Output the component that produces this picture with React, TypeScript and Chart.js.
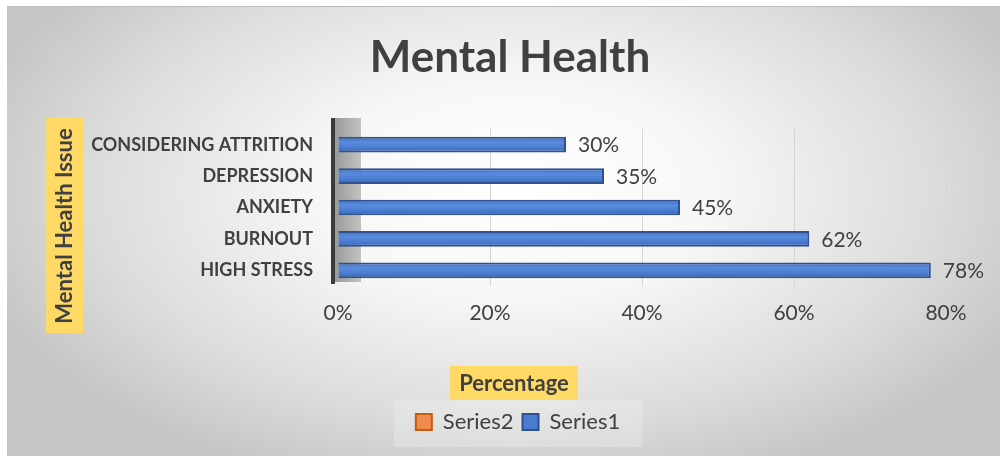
import React, { useEffect, useRef } from 'react';
import { Chart, registerables } from 'chart.js';

Chart.register(...registerables);

const chartTitle = 'Mental Health';
const yAxisTitle = 'Mental Health Issue';
const xAxisTitle = 'Percentage';
const categories = ['CONSIDERING ATTRITION', 'DEPRESSION', 'ANXIETY', 'BURNOUT', 'HIGH STRESS'];
const series1Values = [30, 35, 45, 62, 78];
const series2Values: (number | null)[] = [null, null, null, null, null];
const xTickValues = [0, 20, 40, 60, 80];

const FONT = 'Lato, "Open Sans", sans-serif';
const TEXT = '#404040';
const YELLOW = '#FFD966';

const backgroundPlugin = {
  id: 'bgPlugin',
  beforeDraw(chart: any) {
    const ctx = chart.ctx;
    const W = chart.width;
    const H = chart.height;
    ctx.save();
    ctx.fillStyle = '#ffffff';
    ctx.fillRect(0, 0, W, H);
    ctx.save();
    ctx.beginPath();
    ctx.rect(7, 6, W - 7, H - 6);
    ctx.clip();
    const cx = 515, cy = 190, sy = 0.55;
    ctx.translate(cx, cy);
    ctx.scale(1, sy);
    const g = ctx.createRadialGradient(0, 0, 0, 0, 0, 560);
    g.addColorStop(0, '#ffffff');
    g.addColorStop(0.35, '#f7f7f7');
    g.addColorStop(0.75, '#dcdcdc');
    g.addColorStop(1, '#c6c6c6');
    ctx.fillStyle = g;
    ctx.fillRect(-cx, -cy / sy, W, H / sy + 10);
    ctx.restore();
    ctx.strokeStyle = '#bdbdbd';
    ctx.lineWidth = 1;
    ctx.beginPath();
    ctx.moveTo(7, 6.5);
    ctx.lineTo(W, 6.5);
    ctx.stroke();

    ctx.fillStyle = TEXT;
    ctx.font = `bold 44px ${FONT}`;
    ctx.textAlign = 'center';
    ctx.textBaseline = 'middle';
    ctx.fillText(chartTitle, 510, 58);

    const legend = chart.legend;
    if (legend && legend.legendHitBoxes && legend.legendHitBoxes.length) {
      const hb = legend.legendHitBoxes;
      const minX = Math.min(...hb.map((b: any) => b.left));
      const maxX = Math.max(...hb.map((b: any) => b.left + b.width));
      ctx.fillStyle = 'rgba(255,255,255,0.22)';
      ctx.fillRect(minX - 22, 400, maxX - minX + 44, 47);
    }

    ctx.fillStyle = YELLOW;
    ctx.fillRect(46, 118, 37, 215);
    ctx.fillRect(450, 366, 128, 34);
    ctx.fillStyle = TEXT;
    ctx.font = `bold 22px ${FONT}`;
    ctx.fillText(xAxisTitle, 514, 384);
    ctx.save();
    ctx.translate(65, 226);
    ctx.rotate(-Math.PI / 2);
    ctx.fillText(yAxisTitle, 0, 0);
    ctx.restore();
    ctx.restore();
  },
};

const wallPlugin = {
  id: 'wallPlugin',
  beforeDatasetsDraw(chart: any) {
    const { ctx, chartArea } = chart;
    const top = chartArea.top - 11;
    const bottom = chartArea.bottom - 4;
    const left = chartArea.left;
    ctx.save();
    const g = ctx.createLinearGradient(left - 3, 0, left + 24, 0);
    g.addColorStop(0, '#9a9a9a');
    g.addColorStop(1, '#c4c4c4');
    ctx.fillStyle = g;
    ctx.fillRect(left - 3, top, 26, bottom - top);
    ctx.fillStyle = '#3a3a3a';
    ctx.fillRect(left - 7, top, 4, bottom - top + 2);
    ctx.restore();
  },
};

const dataLabelPlugin = {
  id: 'dataLabels',
  afterDatasetsDraw(chart: any) {
    const { ctx } = chart;
    const meta = chart.getDatasetMeta(1);
    ctx.save();
    ctx.fillStyle = TEXT;
    ctx.font = `21px ${FONT}`;
    ctx.textAlign = 'left';
    ctx.textBaseline = 'middle';
    meta.data.forEach((bar: any, i: number) => {
      ctx.fillText(`${series1Values[i]}%`, bar.x + 12, bar.y + 1);
    });
    ctx.restore();
  },
};

const barFill = (c: any) => {
  const chart = c.chart;
  const ys = chart.scales && chart.scales.y;
  if (c.type !== 'data' || !ys || !chart.chartArea) return '#4A7BD0';
  const yc = ys.getPixelForValue(c.dataIndex);
  const g = chart.ctx.createLinearGradient(0, yc - 8, 0, yc + 8);
  g.addColorStop(0, '#3F6CC0');
  g.addColorStop(0.35, '#5A8BDE');
  g.addColorStop(0.7, '#4A7BD0');
  g.addColorStop(1, '#3560B0');
  return g;
};

export default function App() {
  const ref = useRef<HTMLCanvasElement | null>(null);
  useEffect(() => {
    if (!ref.current) return;
    const chart = new Chart(ref.current, {
      type: 'bar',
      data: {
        labels: categories,
        datasets: [
          {
            label: 'Series2',
            data: series2Values,
            backgroundColor: '#F08A4B',
            borderColor: '#C55A11',
            borderWidth: 2,
            grouped: false,
          } as any,
          {
            label: 'Series1',
            data: series1Values,
            backgroundColor: barFill,
            borderColor: '#2F528F',
            borderWidth: 2,
            grouped: false,
            categoryPercentage: 1,
            barPercentage: 0.5,
          } as any,
        ],
      },
      options: {
        indexAxis: 'y',
        responsive: false,
        animation: false,
        devicePixelRatio: 1,
        layout: { padding: { top: 129, left: 90, right: 54, bottom: 13 } },
        datasets: { bar: { categoryPercentage: 1, barPercentage: 0.5 } },
        scales: {
          x: {
            min: 0,
            max: 80,
            afterBuildTicks(scale: any) {
              scale.ticks = xTickValues.map((v) => ({ value: v }));
            },
            afterFit(scale: any) {
              scale.height = 116;
            },
            ticks: {
              callback: (v: any) => `${v}%`,
              font: { family: FONT, size: 21 },
              color: TEXT,
              padding: 15,
            },
            grid: {
              drawTicks: false,
              color: (c: any) => (c.index === 0 ? 'rgba(0,0,0,0)' : '#d4d4d4'),
            },
            border: { display: false },
          },
          y: {
            afterFit(scale: any) {
              scale.width = 248;
            },
            ticks: {
              font: { family: FONT, size: 18, weight: 'bold' },
              color: TEXT,
              padding: 25,
            },
            grid: { display: false, drawTicks: false },
            border: { display: false },
          },
        },
        plugins: {
          title: { display: false },
          tooltip: { enabled: false },
          legend: {
            position: 'bottom',
            labels: {
              font: { family: FONT, size: 22 },
              color: TEXT,
              boxWidth: 16,
              boxHeight: 16,
              padding: 9,
              generateLabels: (ch: any) =>
                Chart.defaults.plugins.legend.labels.generateLabels(ch).map((l: any) => ({
                  ...l,
                  fillStyle: l.datasetIndex === 1 ? '#4A7BD0' : l.fillStyle,
                })),
            },
          },
        },
      } as any,
      plugins: [backgroundPlugin, wallPlugin, dataLabelPlugin],
    });
    return () => chart.destroy();
  }, []);
  return (
    <div style={{ position: 'absolute', left: 0, top: 0, width: 1000, height: 456 }}>
      <canvas ref={ref} width={1000} height={456} />
    </div>
  );
}
